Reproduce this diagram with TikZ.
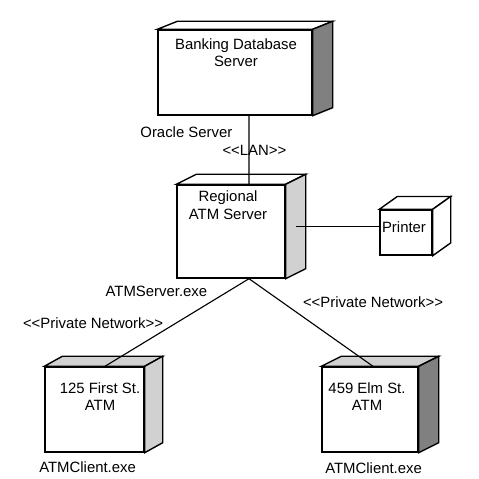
\documentclass[tikz,border=0pt]{standalone}
\usepackage{fontspec}
\setmainfont{Liberation Sans}
\definecolor{sidedark}{gray}{0.5}
\definecolor{sidelight}{gray}{0.82}
\tikzset{
  device/.style={draw, fill=white, line width=1pt, inner sep=0pt},
  link/.style={line width=0.8pt},
}
% top and right faces of a node drawn as a box
\newcommand{\nodecube}[5]{%
  \draw[line width=1pt, fill=#4] (#1.north west) -- ([shift={(#2,#3)}]#1.north west)
    -- ([shift={(#2,#3)}]#1.north east) -- (#1.north east) -- cycle;
  \draw[line width=1pt, fill=#5] (#1.north east) -- ([shift={(#2,#3)}]#1.north east)
    -- ([shift={(#2,#3)}]#1.south east) -- (#1.south east) -- cycle;
}
\begin{document}
\begin{tikzpicture}[font=\fontsize{10.6}{12.5}\selectfont]
    \useasboundingbox (0,0) rectangle (11.975,11.975);
    % devices
    \node[device, minimum width=3.85cm, minimum height=2.125cm] (db) at (5.875,10.1625) {};
    \node[device, minimum width=2.7cm, minimum height=2.325cm] (reg) at (5.775,6.1875) {};
    \node[device, minimum width=1.3cm, minimum height=1.125cm] (prn) at (10.15,6.1625) {};
    \node[device, minimum width=2.475cm, minimum height=2.125cm] (atma) at (2.3625,1.7375) {};
    \node[device, minimum width=2.4cm, minimum height=2.125cm] (atmb) at (9.25,1.7375) {};
    \nodecube{db}{0.5}{0.2}{white}{sidedark}
    \nodecube{reg}{0.5}{0.25}{white}{sidelight}
    \nodecube{prn}{0.45}{0.32}{white}{white}
    \nodecube{atma}{0.45}{0.25}{sidelight}{sidelight}
    \nodecube{atmb}{0.5}{0.25}{sidelight}{sidedark}
    \node[align=center] (dbtext) at (5.9,10.66) {Banking Database\\Server};
    \node[align=center] (regtext) at (5.7,6.85) {Regional\\ATM Server};
    \node (prntext) at (10.1,6.3) {Printer};
    \node[align=center] (atmatext) at (2.5,2.0625) {125 First St.\\ATM};
    \node[align=center] (atmbtext) at (9.175,2.0625) {459 Elm St.\\ATM};
    % connections
    \coordinate (hub) at ([xshift=0.45cm]reg.south);
    \draw[link] ([xshift=0.35cm]db.south) -- ([xshift=0.45cm]reg.north);
    \draw[link] ([shift={(0.25,0.125)}]reg.east) coordinate (regside) -- (regside -| prn.west);
    \draw[link] (hub) -- ([xshift=0.2625cm]atma.north);
    \draw[link] (hub) -- ([xshift=0.075cm]atmb.north);
    % labels
    \node (oracle) at (4.66,8.675) {Oracle Server};
    \node (lan) at (6.36,8.225) {<\kern0pt<LAN>\kern0pt>};
    \node (srvexe) at (3.91,4.7) {ATMServer.exe};
    \node (neta) at (2.325,3.9) {<\kern0pt<Private Network>\kern0pt>};
    \node (netb) at (9.325,4.425) {<\kern0pt<Private Network>\kern0pt>};
    \node (clienta) at (2.19,0.3) {ATMClient.exe};
    \node (clientb) at (9.34,0.275) {ATMClient.exe};
\end{tikzpicture}
\end{document}
